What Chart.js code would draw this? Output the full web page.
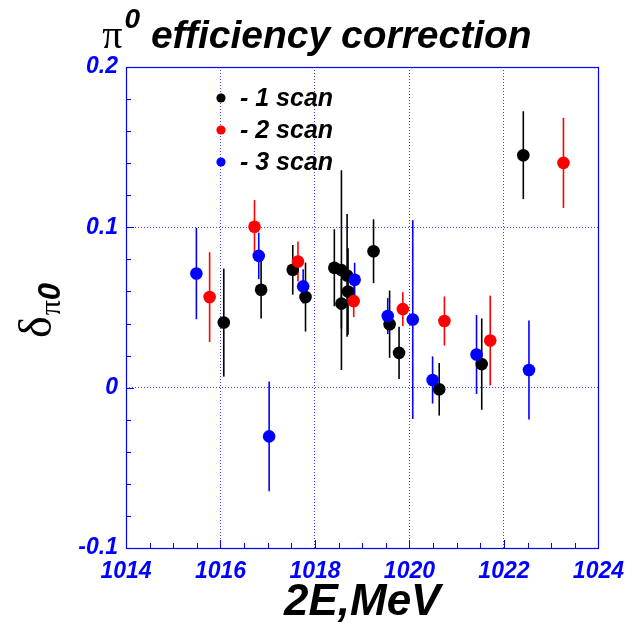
<!DOCTYPE html>
<html>
<head>
<meta charset="utf-8">
<script src="https://cdn.jsdelivr.net/npm/chart.js@4.4.0/dist/chart.umd.min.js"></script>
<style>
  html, body { margin: 0; padding: 0; background: #ffffff; }
  #wrap { width: 634px; height: 633px; }
</style>
</head>
<body>
<div id="wrap"><canvas id="c" width="634" height="633"></canvas></div>
<script>
// Beam energy points (2E, MeV), correction values and their errors, one set per scan
const scan1E   = [1016.07, 1016.86, 1017.53, 1017.80, 1018.41, 1018.56, 1018.56, 1018.68, 1018.70, 1019.24, 1019.58, 1019.78, 1020.63, 1021.53, 1022.41];
const scan1Val = [0.0406, 0.0611, 0.0735, 0.0565, 0.0748, 0.0733, 0.0524, 0.0700, 0.0600, 0.0851, 0.0396, 0.0217, -0.0010, 0.0147, 0.1450];
const scan1Err = [0.0337, 0.0180, 0.0155, 0.0215, 0.0240, 0.0623, 0.0155, 0.0383, 0.0270, 0.0199, 0.0210, 0.0163, 0.0164, 0.0285, 0.0274];

const scan2E   = [1015.77, 1016.72, 1017.64, 1018.82, 1019.86, 1020.74, 1021.71, 1023.26];
const scan2Val = [0.0565, 0.1004, 0.0787, 0.0540, 0.0490, 0.0416, 0.0294, 0.1402];
const scan2Err = [0.0280, 0.0166, 0.0125, 0.0100, 0.0105, 0.0153, 0.0280, 0.0281];

const scan3E   = [1015.49, 1016.81, 1017.03, 1017.75, 1018.84, 1019.54, 1020.07, 1020.49, 1021.42, 1022.53];
const scan3Val = [0.0712, 0.0822, -0.0304, 0.0632, 0.0673, 0.0447, 0.0425, 0.0048, 0.0207, 0.0110];
const scan3Err = [0.0285, 0.0145, 0.0342, 0.0107, 0.0106, 0.0113, 0.0620, 0.0147, 0.0246, 0.0309];

const seriesLabels = ['- 1 scan', '- 2 scan', '- 3 scan'];
const seriesColors = ['#000000', '#ff0000', '#0000ff'];

const xTickValues = [1014, 1016, 1018, 1020, 1022, 1024];
const xTickLabels = ['1014', '1016', '1018', '1020', '1022', '1024'];
const yTickValues = [-0.1, 0, 0.1, 0.2];
const yTickLabels = ['-0.1', '0', '0.1', '0.2'];

const AXIS_BLUE = '#0000ff';
const GRID_BLUE = '#3c3cff';
const SANS = '"Liberation Sans", Arial, sans-serif';
const SERIF = '"Liberation Serif", "Times New Roman", serif';

function toPoints(xs, ys) {
  return xs.map((x, i) => ({ x: x, y: ys[i] }));
}

const allSeries = [
  { E: scan1E, V: scan1Val, err: scan1Err },
  { E: scan2E, V: scan2Val, err: scan2Err },
  { E: scan3E, V: scan3Val, err: scan3Err }
];

const datasets = allSeries.map((s, k) => ({
  label: seriesLabels[k],
  data: toPoints(s.E, s.V),
  errors: s.err,
  backgroundColor: seriesColors[k],
  borderColor: seriesColors[k],
  borderWidth: 0,
  pointRadius: 6.3,
  pointHoverRadius: 6.3,
  showLine: false,
  order: 3 - k
}));

// Vertical error bars, drawn under the markers
const errorBars = {
  id: 'errorBars',
  beforeDatasetsDraw(chart) {
    const ctx = chart.ctx;
    const xs = chart.scales.x, ys = chart.scales.y;
    ctx.save();
    ctx.lineWidth = 1.6;
    chart.data.datasets.forEach((ds) => {
      ctx.strokeStyle = ds.borderColor;
      ds.data.forEach((p, i) => {
        const e = ds.errors[i];
        const px = xs.getPixelForValue(p.x);
        ctx.beginPath();
        ctx.moveTo(px, ys.getPixelForValue(p.y + e));
        ctx.lineTo(px, ys.getPixelForValue(p.y - e));
        ctx.stroke();
      });
    });
    ctx.restore();
  }
};

// Frame around the plotting area plus inner minor/major tick marks
const frameTicks = {
  id: 'frameTicks',
  beforeDatasetsDraw(chart) {
    const ctx = chart.ctx;
    const a = chart.chartArea;
    const xs = chart.scales.x, ys = chart.scales.y;
    ctx.save();
    ctx.strokeStyle = AXIS_BLUE;
    ctx.lineWidth = 1;
    ctx.beginPath();
    // x axis: minor every 0.5 MeV
    for (let v = xs.min; v <= xs.max + 1e-9; v += 0.5) {
      const px = Math.round(xs.getPixelForValue(v)) + 0.5;
      const major = Math.abs((v - xs.min) % 2) < 1e-6;
      const len = major ? 8 : 5;
      ctx.moveTo(px, a.bottom);
      ctx.lineTo(px, a.bottom - len);
    }
    // y axis: minor every 0.02
    for (let k = 0; k <= 15; k++) {
      const v = ys.min + k * 0.02;
      const py = Math.round(ys.getPixelForValue(v)) + 0.5;
      const len = (k % 5 === 0) ? 8 : 5;
      ctx.moveTo(a.left, py);
      ctx.lineTo(a.left + len, py);
    }
    ctx.stroke();
    ctx.lineWidth = 1.2;
    ctx.strokeRect(Math.round(a.left) + 0.5, Math.round(a.top) + 0.5,
                   Math.round(a.right - a.left), Math.round(a.bottom - a.top));
    ctx.restore();
  }
};

// Title, y-axis label with subscript, and the in-plot legend
const textLayer = {
  id: 'textLayer',
  afterDraw(chart) {
    const ctx = chart.ctx;
    ctx.save();
    ctx.fillStyle = '#000000';
    ctx.textBaseline = 'alphabetic';
    ctx.textAlign = 'left';

    // Title: pi^0 efficiency correction
    const piFont = '40px ' + SERIF;
    const supFont = 'italic bold 28px ' + SANS;
    const mainFont = 'italic bold 39px ' + SANS;
    const mainText = ' efficiency correction';
    ctx.font = piFont; const wPi = ctx.measureText('\u03c0').width;
    ctx.font = supFont; const wSup = ctx.measureText('0').width;
    ctx.font = mainFont; const wMain = ctx.measureText(mainText).width;
    const total = wPi + 2 + wSup + wMain;
    let tx = chart.width / 2 - total / 2;
    const tBase = 48;
    ctx.font = piFont; ctx.fillText('\u03c0', tx, tBase); tx += wPi + 2;
    ctx.font = supFont; ctx.fillText('0', tx, tBase - 20); tx += wSup;
    ctx.font = mainFont; ctx.fillText(mainText, tx, tBase);

    // y-axis label: delta with subscript pi0, reading upward
    ctx.save();
    ctx.translate(51, 338);
    ctx.rotate(-Math.PI / 2);
    ctx.font = '46px ' + SERIF;
    const wD = ctx.measureText('\u03b4').width;
    ctx.fillText('\u03b4', 0, 0);
    ctx.font = '30px ' + SERIF;
    const wP = ctx.measureText('\u03c0').width;
    ctx.fillText('\u03c0', wD + 1, 9);
    ctx.font = 'italic bold 31px ' + SANS;
    ctx.fillText('0', wD + 1 + wP, 9);
    ctx.restore();

    // Legend
    const lx = 221, ly0 = 98, dy = 32;
    ctx.font = 'italic bold 25px ' + SANS;
    ctx.textBaseline = 'middle';
    chart.data.datasets.forEach((ds, k) => {
      const cy = ly0 + k * dy;
      ctx.fillStyle = ds.backgroundColor;
      ctx.beginPath();
      ctx.arc(lx, cy, 4.6, 0, Math.PI * 2);
      ctx.fill();
      ctx.fillStyle = '#000000';
      ctx.fillText(ds.label, 240, cy + 1);
    });
    ctx.restore();
  }
};

const tickFont = { family: SANS, size: 23, style: 'italic', weight: 'bold' };

new Chart(document.getElementById('c'), {
  type: 'scatter',
  data: { datasets: datasets },
  options: {
    responsive: false,
    animation: false,
    devicePixelRatio: 1,
    layout: { padding: { top: 67, right: 33, bottom: 4, left: 0 } },
    plugins: { legend: { display: false }, tooltip: { enabled: false } },
    scales: {
      x: {
        type: 'linear',
        min: 1014,
        max: 1024,
        afterFit(s) { s.height = 81; },
        afterBuildTicks(s) { s.ticks = xTickValues.map(v => ({ value: v })); },
        ticks: {
          callback: (v, i) => xTickLabels[i],
          color: AXIS_BLUE,
          font: tickFont,
          padding: 10,
          maxRotation: 0,
          autoSkip: false
        },
        grid: { color: GRID_BLUE, lineWidth: 1, drawTicks: false },
        border: { display: false, dash: [1, 2] },
        title: {
          display: true,
          text: '2E,MeV',
          color: '#000000',
          font: { family: SANS, size: 44, style: 'italic', weight: 'bold' },
          padding: { top: 0, bottom: 0 }
        }
      },
      y: {
        type: 'linear',
        min: -0.1,
        max: 0.2,
        afterFit(s) { s.width = 126; },
        afterBuildTicks(s) { s.ticks = yTickValues.map(v => ({ value: v })); },
        ticks: {
          callback: (v, i) => yTickLabels[i],
          color: AXIS_BLUE,
          font: tickFont,
          padding: 8,
          autoSkip: false
        },
        grid: { color: GRID_BLUE, lineWidth: 1, drawTicks: false },
        border: { display: false, dash: [1, 2] }
      }
    }
  },
  plugins: [errorBars, frameTicks, textLayer]
});
</script>
</body>
</html>
